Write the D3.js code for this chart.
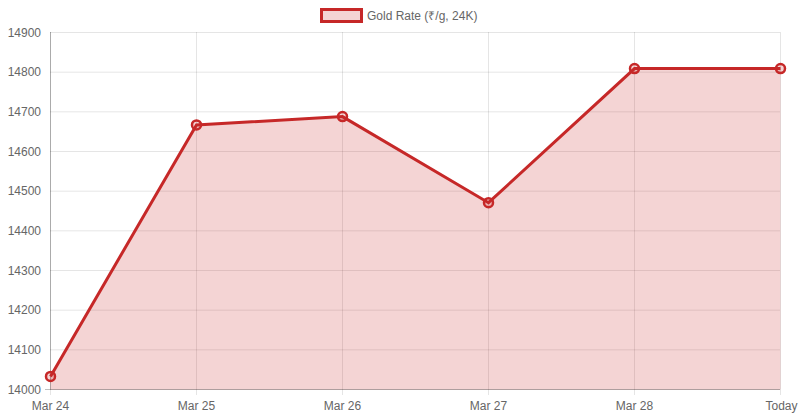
<!DOCTYPE html>
<html><head><meta charset="utf-8">
<script src="https://cdn.jsdelivr.net/npm/d3@7"></script>
<style>body{margin:0;background:#fff}text{font-family:"Liberation Sans",Arial,sans-serif;}</style>
</head><body><svg id="c" width="800" height="420"></svg>
<script>
const categories=["Mar 24","Mar 25","Mar 26","Mar 27","Mar 28","Today"];
const values=[14033,14667,14688,14471,14809,14809];
const yTicks=[14000,14100,14200,14300,14400,14500,14600,14700,14800,14900];
const seriesName="Gold Rate (₹/g, 24K)";
const svg=d3.select("#c");
const x=d3.scalePoint().domain(categories).range([50.5,780.5]);
const y=d3.scaleLinear().domain([14000,14900]).range([389.5,32.5]);
const g=svg.append("g");
yTicks.forEach(t=>g.append("line").attr("x1",50).attr("x2",780).attr("y1",y(t)).attr("y2",y(t)).attr("stroke","rgba(0,0,0,0.1)"));
categories.forEach(c=>g.append("line").attr("x1",x(c)).attr("x2",x(c)).attr("y1",32).attr("y2",395).attr("stroke","rgba(0,0,0,0.1)"));
g.append("line").attr("x1",50.5).attr("x2",50.5).attr("y1",32).attr("y2",389.5).attr("stroke","rgba(0,0,0,0.25)");
g.append("line").attr("x1",45).attr("x2",780).attr("y1",389.5).attr("y2",389.5).attr("stroke","rgba(0,0,0,0.25)");
yTicks.forEach(t=>g.append("text").attr("x",41).attr("y",y(t)+4).attr("text-anchor","end").attr("font-size",12).attr("fill","#666").text(t));
categories.forEach((c,i)=>g.append("text").attr("x",x(c)).attr("y",410).attr("text-anchor",i==categories.length-1?"end":"middle").attr("dx",i==categories.length-1?17:0).attr("font-size",12).attr("fill","#666").text(c));
const area=d3.area().x((d,i)=>x(categories[i])).y0(y(14000)).y1(d=>y(d));
const line=d3.line().x((d,i)=>x(categories[i])).y(d=>y(d));
svg.append("path").datum(values).attr("d",area).attr("fill","rgba(198,40,40,0.2)");
svg.append("path").datum(values).attr("d",line).attr("fill","none").attr("stroke","#c62828").attr("stroke-width",3);
svg.selectAll("circle").data(values).join("circle").attr("cx",(d,i)=>x(categories[i])).attr("cy",d=>y(d)).attr("r",4.5).attr("fill","rgba(198,40,40,0.2)").attr("stroke","#c62828").attr("stroke-width",2.5);
svg.append("rect").attr("x",321.5).attr("y",9.5).attr("width",40).attr("height",12).attr("fill","rgba(198,40,40,0.2)").attr("stroke","#c62828").attr("stroke-width",3);
svg.append("text").attr("x",367).attr("y",20).attr("font-size",12).attr("fill","#666").text(seriesName);
</script></body></html>
